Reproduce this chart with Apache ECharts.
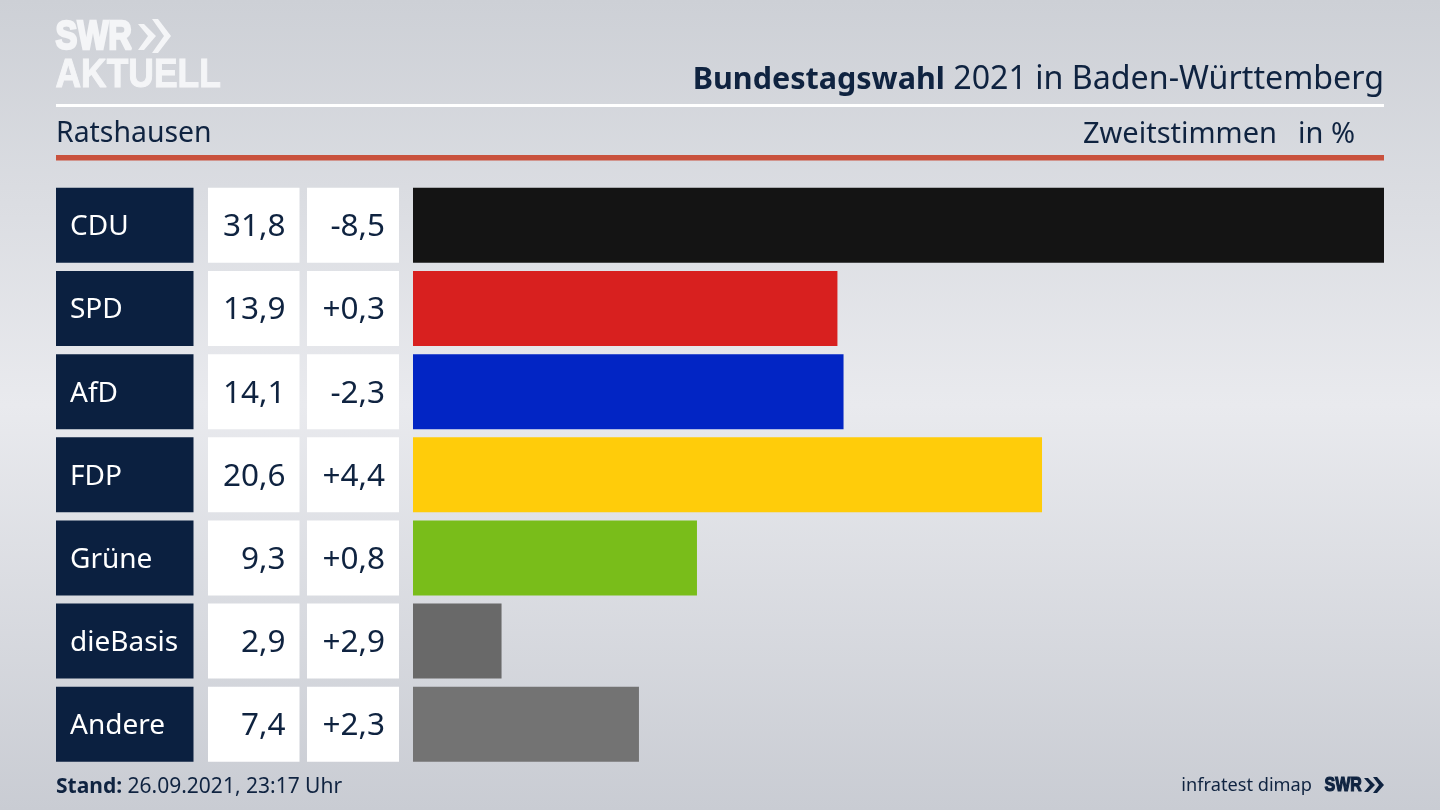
<!DOCTYPE html>
<html>
<head>
<meta charset="utf-8">
<title>Bundestagswahl 2021 in Baden-Württemberg</title>
<script src="https://cdn.jsdelivr.net/npm/echarts@6/dist/echarts.min.js"></script>
<style>
  html, body { margin: 0; padding: 0; }
  #chart { width: 1440px; height: 810px; }
</style>
</head>
<body>
<div id="chart"></div>
<script>
var parties = ["CDU", "SPD", "AfD", "FDP", "Grüne", "dieBasis", "Andere"];
var shares = [31.8, 13.9, 14.1, 20.6, 9.3, 2.9, 7.4];
var changes = [-8.5, 0.3, -2.3, 4.4, 0.8, 2.9, 2.3];
var partyColors = ["#141414", "#d8201f", "#0225c4", "#ffcc0a", "#79bd1a", "#696969", "#737373"];

var FONT = "'Noto Sans', sans-serif";
var LOGO_FONT = "'Liberation Sans', sans-serif";
var NAVY = "#0b2040";
var INK = "#0f2340";
var LOGO = "#f4f5f7";

function comma(v) {
  return v.toFixed(1).replace(".", ",");
}
function signed(v) {
  return (v > 0 ? "+" : "") + comma(v);
}

// the three table columns are bars filling their own small grid
var cellValues = parties.map(function () { return 1; });

function cellSeries(idx, color, textColor, pos, dist, size, texts) {
  return {
    type: "bar",
    xAxisIndex: idx,
    yAxisIndex: idx,
    barWidth: 75,
    silent: true,
    data: cellValues,
    itemStyle: { color: color },
    label: {
      show: true,
      position: pos,
      distance: dist,
      offset: [0, 2],
      color: textColor,
      fontFamily: FONT,
      fontSize: size,
      formatter: function (p) { return texts[p.dataIndex]; }
    }
  };
}

function plainTitle(text, pos, size) {
  var t = { text: text, padding: 0, textStyle: { fontFamily: FONT, fontWeight: "normal", fontSize: size, color: INK } };
  return Object.assign(t, pos);
}

var rowTop = 183.8;
var rowsHeight = 582;
var columns = [
  { left: 56, width: 137.5 },
  { left: 208, width: 91.5 },
  { left: 307, width: 92 },
  { left: 413, width: 971 }
];

var grids = [], xAxes = [], yAxes = [];
columns.forEach(function (c, i) {
  grids.push({ left: c.left, width: c.width, top: rowTop, height: rowsHeight });
  xAxes.push({ gridIndex: i, type: "value", min: 0, max: i === 3 ? 31.8 : 1, show: false });
  yAxes.push({ gridIndex: i, type: "category", inverse: true, data: parties, show: false });
});

var option = {
  animation: false,
  backgroundColor: {
    type: "linear", x: 0, y: 0, x2: 0, y2: 1,
    colorStops: [
      { offset: 0, color: "#cdd0d6" },
      { offset: 0.5, color: "#e9eaee" },
      { offset: 1, color: "#c9ccd3" }
    ]
  },
  title: [
    {
      text: "{b|Bundestagswahl} 2021 in Baden-Württemberg",
      right: 56, top: 64, padding: 0,
      textStyle: {
        fontFamily: FONT, fontWeight: "normal", fontSize: 32.2, color: INK,
        rich: { b: { fontFamily: FONT, fontWeight: "bold", fontSize: 30.5, color: INK } }
      }
    },
    plainTitle("Ratshausen", { left: 56, top: 120 }, 28.4),
    plainTitle("Zweitstimmen", { right: 163, top: 120 }, 29),
    plainTitle("in %", { right: 85, top: 120 }, 29),
    {
      text: "{b|Stand:} 26.09.2021, 23:17 Uhr",
      left: 56, top: 777, padding: 0,
      textStyle: {
        fontFamily: FONT, fontWeight: "normal", fontSize: 21, color: INK,
        rich: { b: { fontFamily: FONT, fontWeight: "bold", fontSize: 21, color: INK } }
      }
    },
    plainTitle("infratest dimap", { right: 128, top: 777 }, 18.2)
  ],
  grid: grids,
  xAxis: xAxes,
  yAxis: yAxes,
  series: [
    cellSeries(0, NAVY, "#ffffff", "insideLeft", 14, 28, parties),
    cellSeries(1, "#ffffff", INK, "insideRight", 14, 31.5, shares.map(comma)),
    cellSeries(2, "#ffffff", INK, "insideRight", 14, 31.5, changes.map(signed)),
    {
      type: "bar",
      xAxisIndex: 3,
      yAxisIndex: 3,
      barWidth: 75,
      silent: true,
      data: shares,
      itemStyle: { color: function (p) { return partyColors[p.dataIndex]; } }
    }
  ],
  graphic: [
    { type: "rect", shape: { x: 56, y: 104, width: 1328, height: 3 }, style: { fill: "#ffffff" } },
    { type: "rect", shape: { x: 56, y: 155, width: 1328, height: 5.5 }, style: { fill: "#c9513d" } },
    // logo
    { type: "text", x: 55.5, y: 17, scaleX: 0.8, style: { text: "SWR", fontFamily: LOGO_FONT, fontWeight: "bold", fontSize: 41, fill: LOGO, stroke: LOGO, lineWidth: 2.5 } },
    { type: "polygon", shape: { points: [[138, 24], [144, 24], [156, 36], [144, 50], [138, 50], [148, 36]] }, style: { fill: LOGO } },
    { type: "polygon", shape: { points: [[152, 19], [158, 19], [171, 36], [158, 53], [152, 53], [164, 36]] }, style: { fill: LOGO } },
    { type: "text", x: 55.5, y: 56, scaleX: 0.886, style: { text: "AKTUELL", fontFamily: LOGO_FONT, fontWeight: "bold", fontSize: 40, fill: LOGO, stroke: LOGO, lineWidth: 1 } },
    // small logo bottom right
    { type: "text", x: 1324.5, y: 775, scaleX: 0.8, style: { text: "SWR", fontFamily: LOGO_FONT, fontWeight: "bold", fontSize: 20, fill: INK, stroke: INK, lineWidth: 1.2 } },
    { type: "polygon", shape: { points: [[1364, 778], [1368, 778], [1375, 785], [1368, 792], [1364, 792], [1370, 785]] }, style: { fill: INK } },
    { type: "polygon", shape: { points: [[1373, 777], [1377, 777], [1384, 785], [1377, 793], [1373, 793], [1379, 785]] }, style: { fill: INK } }
  ]
};

var myChart = echarts.init(document.getElementById("chart"));
myChart.setOption(option);
</script>
</body>
</html>
